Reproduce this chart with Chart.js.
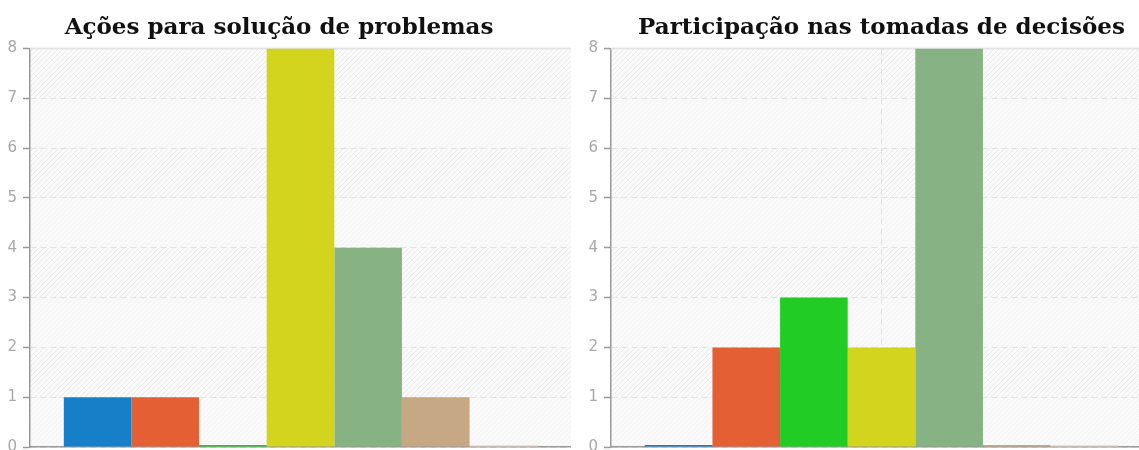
<!DOCTYPE html>
<html>
<head>
<meta charset="utf-8">
<script src="https://cdn.jsdelivr.net/npm/chart.js@4.4.0/dist/chart.umd.min.js"></script>
<style>
  html, body { margin: 0; padding: 0; background: #fff; overflow: hidden; width: 1139px; height: 450px; }
  .box { position: absolute; top: 0; width: 584px; height: 462px; }
  #b1 { left: -13px; }
  #b2 { left: 568px; }
</style>
</head>
<body>
<div class="box" id="b1"><canvas id="c1"></canvas></div>
<div class="box" id="b2"><canvas id="c2"></canvas></div>
<script>
// ---- data ----
const categories = [''];
const seriesNames = ['Opção 1', 'Opção 2', 'Opção 3', 'Opção 4', 'Opção 5', 'Opção 6', 'Opção 7'];
const seriesColors = ['#1580c8', '#e55f35', '#21cc24', '#d3d41e', '#86b284', '#c6a984', '#f8dccf'];
const valuesAcoes = [1, 1, 0, 8, 4, 1, 0];
const valuesParticipacao = [0, 2, 3, 2, 8, 0, 0];
const titleAcoes = 'Ações para solução de problemas';
const titleParticipacao = 'Participação nas tomadas de decisões';
const yTicks = [0, 1, 2, 3, 4, 5, 6, 7, 8];

// ---- background pattern plugin ----
function makePattern(ctx, color) {
  const c = document.createElement('canvas');
  c.width = 5; c.height = 5;
  const x = c.getContext('2d');
  x.strokeStyle = color; x.lineWidth = 1;
  x.beginPath();
  x.moveTo(0, 5); x.lineTo(5, 0);
  x.moveTo(-2.5, 2.5); x.lineTo(2.5, -2.5);
  x.moveTo(2.5, 7.5); x.lineTo(7.5, 2.5);
  x.stroke();
  return ctx.createPattern(c, 'repeat');
}
const bgPlugin = {
  id: 'bgPlugin',
  beforeDraw(chart) {
    const {ctx, chartArea: a, scales: {y}} = chart;
    ctx.save();
    ctx.fillStyle = '#fafafa';
    ctx.fillRect(a.left, a.top, a.right - a.left, a.bottom - a.top);
    const pStrong = makePattern(ctx, '#eaeaea');
    const pLight = makePattern(ctx, '#f2f2f2');
    for (let v = 0; v < yTicks[yTicks.length - 1]; v++) {
      const yt = y.getPixelForValue(v + 1), yb = y.getPixelForValue(v);
      ctx.fillStyle = (v % 2 === 1) ? pStrong : pLight;
      ctx.fillRect(a.left, yt, a.right - a.left, yb - yt);
    }
    ctx.restore();
  },
  beforeDatasetsDraw(chart) {
    const {ctx, chartArea: a} = chart;
    ctx.save();
    ctx.strokeStyle = '#e4e4e4';
    ctx.lineWidth = 2;
    ctx.beginPath();
    ctx.moveTo(a.left, a.top);
    ctx.lineTo(a.right, a.top);
    ctx.stroke();
    ctx.lineWidth = 1;
    ctx.beginPath();
    ctx.moveTo(a.right + 0.5, a.top);
    ctx.lineTo(a.right + 0.5, a.bottom);
    ctx.stroke();
    ctx.restore();
  }
};

function makeChart(id, values, title, fullSizeTitle) {
  return new Chart(document.getElementById(id), {
    type: 'bar',
    data: {
      labels: categories,
      datasets: seriesNames.map((name, i) => ({
        label: name,
        data: [values[i]],
        backgroundColor: seriesColors[i],
        borderWidth: 0,
        inflateAmount: 0,
        minBarLength: 2
      }))
    },
    options: {
      responsive: true,
      maintainAspectRatio: false,
      animation: false,
      layout: {padding: {left: 0, right: 0, top: 0, bottom: 0}},
      datasets: {bar: {categoryPercentage: 0.875, barPercentage: 1.0}},
      plugins: {
        legend: {display: false},
        tooltip: {enabled: false},
        title: {
          display: true,
          text: title,
          fullSize: fullSizeTitle,
          color: '#111',
          font: {family: 'DejaVu Serif', size: 23, weight: 'bold'},
          padding: {top: 14, bottom: 7}
        }
      },
      scales: {
        x: {
          ticks: {display: false},
          grid: {display: true, offset: false, color: '#e0e0e0', drawTicks: false, tickLength: 0},
          border: {display: true, color: '#999', width: 1.5, dash: [6, 4]}
        },
        y: {
          min: 0, max: 8,
          afterFit(axis) { axis.width = 43; },
          ticks: {stepSize: 1, color: '#a8a8a8', padding: 6, font: {family: 'DejaVu Sans', size: 15}},
          grid: {color: '#e2e2e2', tickLength: 7, tickColor: '#999', tickWidth: 1.5},
          border: {display: true, color: '#999', width: 1.5, dash: [6, 4]}
        }
      }
    },
    plugins: [bgPlugin]
  });
}

makeChart('c1', valuesAcoes, titleAcoes, true);
makeChart('c2', valuesParticipacao, titleParticipacao, false);
</script>
</body>
</html>
